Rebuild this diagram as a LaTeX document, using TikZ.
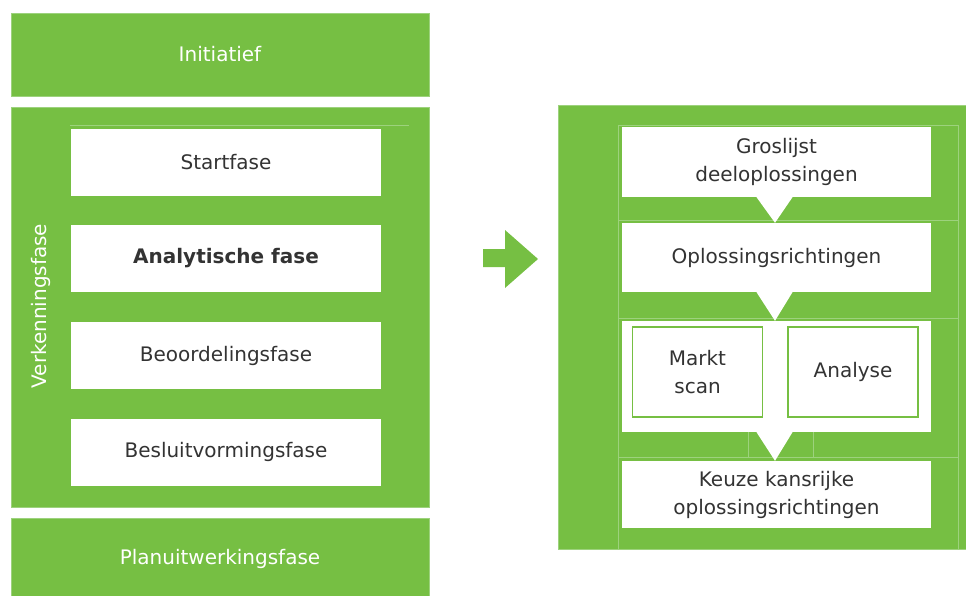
\documentclass[tikz,border=0pt]{standalone}
\usepackage{fontspec}
\setmainfont{DejaVu Sans}
\usetikzlibrary{calc}
\definecolor{fgreen}{HTML}{76BF43}
\definecolor{fline}{HTML}{9DD27D}
\definecolor{ftext}{HTML}{333333}

\begin{document}
\begin{tikzpicture}[x=1pt,y=-1pt,
  greenbox/.style={fill=fgreen,draw=fline,line width=.8pt,text=white,inner sep=0pt},
  phasebox/.style={fill=white,text=ftext,inner sep=0pt,minimum width=310pt,minimum height=67pt},
  subbox/.style={fill=white,draw=fgreen,line width=1.5pt,text=ftext,inner sep=0pt,minimum width=130pt,minimum height=90pt,align=center},
  every node/.append style={font=\fontsize{20}{28}\selectfont}]
\useasboundingbox (0,0) rectangle (966,596);
% left column
\node[greenbox,minimum width=418pt,minimum height=83pt] (init) at (220,54.5){Initiatief};
\node[greenbox,minimum width=418pt,minimum height=400pt] (verk) at (220,307){};
\node[greenbox,minimum width=418pt,minimum height=82pt] (plan) at (220,559){Planuitwerkingsfase};
\draw[fline,line width=1pt] (70,126)--(409,126);
\node[text=white,rotate=90] (verklabel) at (41,306){Verkenningsfase};
\node[phasebox] (start) at (226,162.5){Startfase};
\node[phasebox,font=\fontsize{20}{28}\selectfont\bfseries] (anal) at (226,258.5){Analytische fase};
\node[phasebox] (beoo) at (226,355.5){Beoordelingsfase};
\node[phasebox] (besl) at (226,452){Besluitvormingsfase};
% arrow
\fill[fgreen] (483,249)--(505,249)--(505,230)--(538,259)--(505,288)--(505,267)--(483,267)--cycle;
% right column
\node[greenbox,minimum width=412pt,minimum height=444pt] (opl) at (764,327){};
\draw[fline,line width=.8pt] (618,125)--(958,125) (618,220)--(958,220) (618,318)--(958,318) (618,457)--(958,457)
  (618,125)--(618,549) (958,125)--(958,549) (748,432)--(748,457) (813,432)--(813,457);
\node[phasebox,minimum width=309pt,minimum height=70pt,align=center] (gros) at (776.5,162){Groslijst\\deeloplossingen};
\node[phasebox,minimum width=309pt,minimum height=69pt] (richt) at (776.5,257.5){Oplossingsrichtingen};
\node[phasebox,minimum width=309pt,minimum height=111pt] (mid) at (776.5,376.5){};
\node[subbox] (markt) at (697.5,372){Markt\\scan};
\node[subbox] (analyse) at (853,372){Analyse};
\node[phasebox,minimum width=309pt,align=center] (keuze) at (776.5,494.5){Keuze kansrijke\\oplossingsrichtingen};
% triangles
\fill[white] ($(gros.south)+(-20,0)$)--($(gros.south)+(16,0)$)--($(richt.north)+(-1.5,0)$)--cycle;
\fill[white] ($(richt.south)+(-20,0)$)--($(richt.south)+(16,0)$)--($(mid.north)+(-1.5,0)$)--cycle;
\fill[white] ($(mid.south)+(-20,0)$)--($(mid.south)+(16,0)$)--($(keuze.north)+(-1.5,0)$)--cycle;
\end{tikzpicture}
\end{document}
